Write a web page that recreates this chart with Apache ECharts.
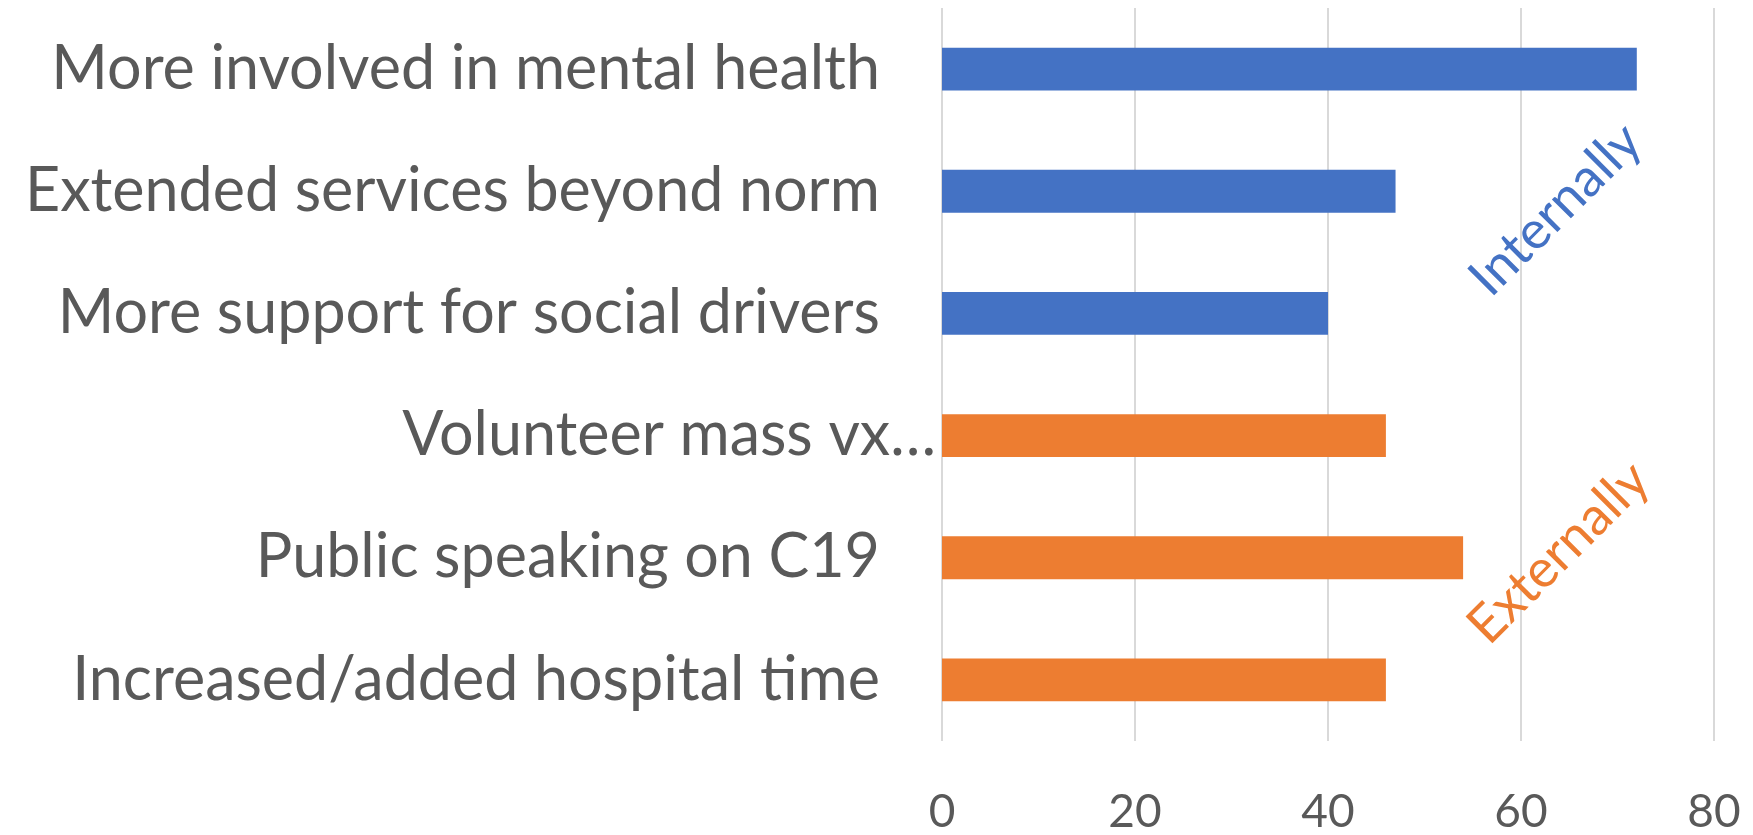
<!DOCTYPE html>
<html>
<head>
<meta charset="utf-8">
<script src="https://cdn.jsdelivr.net/npm/echarts@6/dist/echarts.min.js"></script>
<style>
  html, body { margin: 0; padding: 0; background: #fff; }
  #main { width: 1753px; height: 835px; }
</style>
</head>
<body>
<div id="main"></div>
<script>
// categories top to bottom
const categories = [
  'More involved in mental health',
  'Extended services beyond norm',
  'More support for social drivers',
  'Volunteer mass vx…',
  'Public speaking on C19',
  'Increased/added hospital time'
]
const values = [72, 47, 40, 46, 54, 46]
const groups = ['Internally', 'Internally', 'Internally', 'Externally', 'Externally', 'Externally']
const groupColors = { Internally: '#4472C4', Externally: '#ED7D31' }
// where the group tags sit: [x value, category position]
const groupTags = [
  { name: 'Internally', at: [63.6, 1.15] },
  { name: 'Externally', at: [63.9, 3.96] }
]
const xTicks = { min: 0, max: 80, interval: 20 }

const chart = echarts.init(document.getElementById('main'))
const textColor = '#595959'

const option = {
  animation: false,
  grid: { left: 942, right: 39, top: 8, bottom: 93 },
  xAxis: {
    type: 'value',
    min: xTicks.min,
    max: xTicks.max,
    interval: xTicks.interval,
    axisLine: { show: false },
    axisTick: { show: false },
    splitLine: { lineStyle: { color: '#d9d9d9', width: 2 } },
    axisLabel: { color: textColor, fontFamily: 'Lato', fontSize: 46, margin: 48 }
  },
  yAxis: {
    type: 'category',
    inverse: true,
    data: categories,
    axisLine: { show: false },
    axisTick: { show: false },
    axisLabel: {
      color: textColor,
      fontFamily: 'Lato',
      fontSize: 61,
      margin: 6,
      formatter: function (v, i) {
        return i === 3 ? v : '{a|' + v + '}'
      },
      rich: {
        a: { color: textColor, fontFamily: 'Lato', fontSize: 61, padding: [0, 56, 0, 0] }
      }
    }
  },
  series: [
    {
      type: 'bar',
      barCategoryGap: '65%',
      data: values.map((v, i) => ({
        value: v,
        itemStyle: { color: groupColors[groups[i]] }
      }))
    }
  ]
}
chart.setOption(option)

/** place the rotated group tags from data coordinates */
function tagPixel (at) {
  const lo = Math.floor(at[1])
  const p0 = chart.convertToPixel({ gridIndex: 0 }, [at[0], lo])
  const p1 = chart.convertToPixel({ gridIndex: 0 }, [at[0], lo + 1])
  const f = at[1] - lo
  return [p0[0], p0[1] + (p1[1] - p0[1]) * f]
}

chart.setOption({
  graphic: groupTags.map(t => {
    const p = tagPixel(t.at)
    return {
      type: 'text',
      x: p[0],
      y: p[1],
      rotation: Math.PI / 4,
      style: {
        text: t.name,
        fill: groupColors[t.name],
        font: '53px Lato',
        align: 'center',
        verticalAlign: 'middle'
      }
    }
  })
})
</script>
</body>
</html>
